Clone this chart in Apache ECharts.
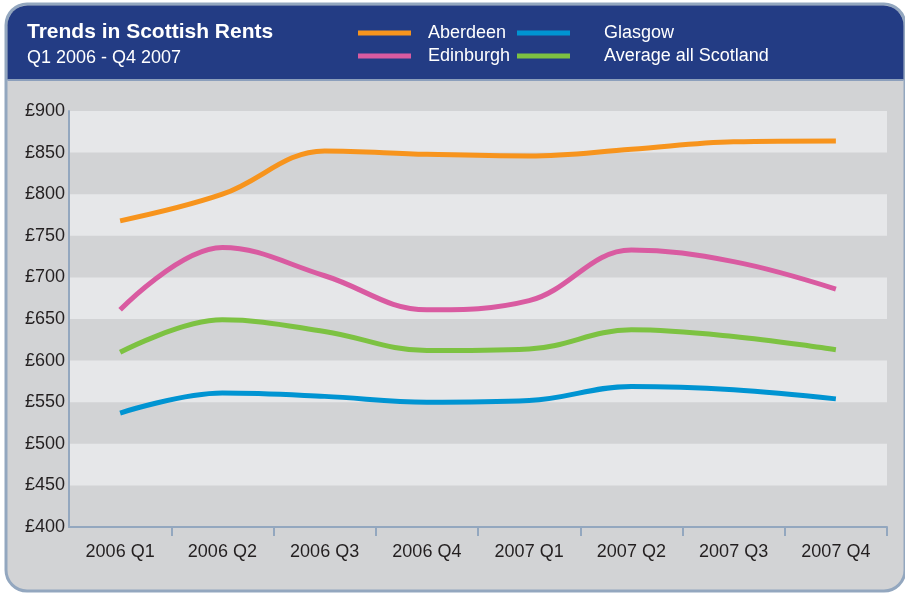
<!DOCTYPE html>
<html>
<head>
<meta charset="utf-8">
<script src="https://cdn.jsdelivr.net/npm/echarts@6/dist/echarts.min.js"></script>
<style>
  html, body { margin: 0; padding: 0; background: #fff; }
  #main { width: 905px; height: 593px; }
</style>
</head>
<body>
<div id="main"></div>
<script>
var quarters = ['2006 Q1', '2006 Q2', '2006 Q3', '2006 Q4', '2007 Q1', '2007 Q2', '2007 Q3', '2007 Q4']
var aberdeen = [768, 800, 852, 848, 846, 854, 863, 864]
var edinburgh = [661, 736, 702, 661, 672, 733, 719, 686]
var glasgow = [537, 561, 557, 550, 552, 569, 565, 554]
var average = [610, 649, 635, 612, 614, 637, 629, 613]

var font = '"Liberation Sans", Arial, sans-serif'
var borderCol = '#93a7bf'

function line(name, data, color) {
    return {
        name: name,
        type: 'line',
        data: data,
        smooth: 0.38,
        symbol: 'none',
        lineStyle: { color: color, width: 5, cap: 'butt' },
        itemStyle: { color: color }
    }
}

var myChart = echarts.init(document.getElementById('main'))
myChart.setOption({
    animation: false,
    textStyle: { fontFamily: font },
    graphic: [
        // panel body
        { type: 'rect', z: -10, shape: { x: 6, y: 4, width: 899, height: 587, r: 21 },
          style: { fill: '#d2d3d5', stroke: borderCol, lineWidth: 3 } },
        // header
        { type: 'rect', z: -9, shape: { x: 7.5, y: 5.5, width: 896, height: 74, r: [20, 20, 0, 0] },
          style: { fill: '#233c84' } },
        { type: 'rect', z: -9, shape: { x: 7.5, y: 79, width: 896, height: 2 },
          style: { fill: '#8c9fbc' } }
    ],
    title: {
        left: 22, top: 17,
        text: 'Trends in Scottish Rents',
        subtext: 'Q1 2006 - Q4 2007',
        itemGap: 6,
        textStyle: { color: '#fff', fontSize: 21, fontWeight: 'bold', fontFamily: font },
        subtextStyle: { color: '#fff', fontSize: 18, fontFamily: font }
    },
    legend: [{
        data: ['Aberdeen', 'Edinburgh'],
        orient: 'vertical', left: 353, top: 19,
        icon: 'rect', itemWidth: 53, itemHeight: 5, itemGap: 5,
        textStyle: { color: '#fff', fontSize: 18, fontFamily: font, padding: [0, 0, 0, 12] }
    }, {
        data: ['Glasgow', 'Average all Scotland'],
        orient: 'vertical', left: 512, top: 19,
        icon: 'rect', itemWidth: 53, itemHeight: 5, itemGap: 5,
        textStyle: { color: '#fff', fontSize: 18, fontFamily: font, padding: [0, 0, 0, 29] }
    }],
    grid: { left: 69, right: 18, top: 111, bottom: 66 },
    xAxis: {
        type: 'category',
        data: quarters,
        boundaryGap: true,
        axisLine: { show: true, lineStyle: { color: borderCol, width: 2 } },
        axisTick: {
            show: true,
            length: 9,
            // no tick at the corner where the y axis meets
            interval: function (index) { return index !== 0 },
            lineStyle: { color: borderCol, width: 2 }
        },
        axisLabel: { color: '#231f20', fontSize: 18, margin: 16, fontFamily: font }
    },
    yAxis: {
        type: 'value',
        min: 400, max: 900, interval: 50,
        axisLine: { show: true, lineStyle: { color: borderCol, width: 2 } },
        axisTick: { show: false },
        axisLabel: { color: '#231f20', fontSize: 18, margin: 4, fontFamily: font, formatter: '£{value}' },
        splitLine: { show: false },
        splitArea: { show: true, areaStyle: { color: ['rgba(0,0,0,0)', '#e6e7e9'] } }
    },
    series: [
        line('Aberdeen', aberdeen, '#f7941d'),
        line('Edinburgh', edinburgh, '#d95ba1'),
        line('Glasgow', glasgow, '#0094d2'),
        line('Average all Scotland', average, '#7dc242')
    ]
})
</script>
</body>
</html>
